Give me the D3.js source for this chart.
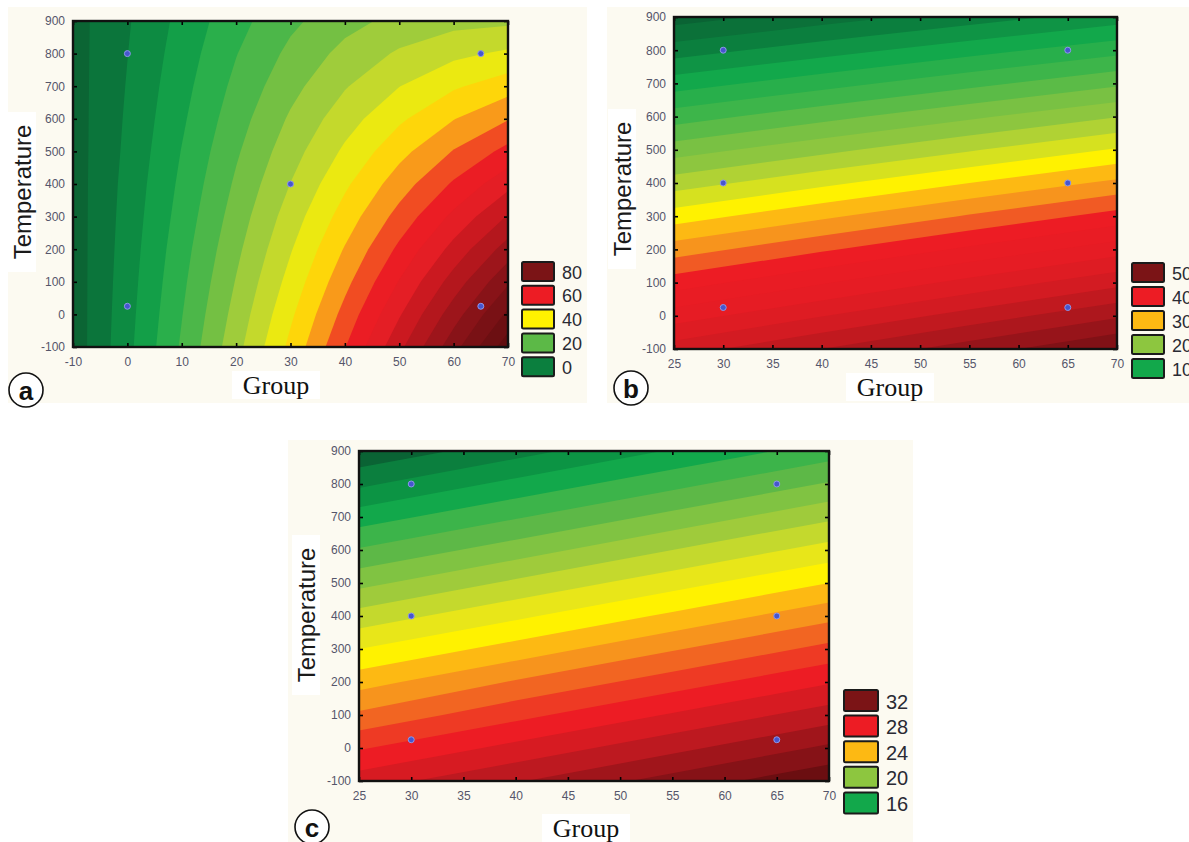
<!DOCTYPE html>
<html>
<head>
<meta charset="utf-8">
<script src="https://cdn.jsdelivr.net/npm/d3@7/dist/d3.min.js"></script>
<style>
html,body{margin:0;padding:0;background:#ffffff;}
svg{display:block;}
</style>
</head>
<body>
<svg id="chart" width="1189" height="842"></svg>
<script>
// ---------------- DATA ----------------
const temperatureTicks = [-100, 0, 100, 200, 300, 400, 500, 600, 700, 800, 900];
const groupTicksA = [-10, 0, 10, 20, 30, 40, 50, 60, 70];
const groupTicksB = [25, 30, 35, 40, 45, 50, 55, 60, 65, 70];
const groupTicksC = [25, 30, 35, 40, 45, 50, 55, 60, 65, 70];

// response surface grids (rows: Temperature -100 .. 900)
const gridGroupA = [-10, 0, 10, 20, 30, 40, 50, 60, 70];
const gridTempA = [-100, 0, 100, 200, 300, 400, 500, 600, 700, 800, 900];
const surfaceA = [
  [-8.0, 3.6, 15.7, 28.3, 41.3, 54.8, 68.7, 83.1, 98.0],
  [-7.9, 3.2, 14.8, 26.8, 39.1, 51.7, 64.5, 77.7, 91.1],
  [-7.8, 2.8, 13.9, 25.3, 36.8, 48.5, 60.3, 72.2, 84.2],
  [-7.7, 2.4, 13.0, 23.8, 34.6, 45.4, 56.1, 66.7, 77.3],
  [-7.6, 2.0, 12.0, 22.3, 32.4, 42.2, 51.8, 61.2, 70.4],
  [-7.5, 1.6, 11.1, 20.8, 30.1, 39.1, 47.6, 55.7, 63.5],
  [-7.4, 1.1, 10.2, 19.3, 27.9, 35.9, 43.4, 50.3, 56.6],
  [-7.3, 0.7, 9.2, 17.8, 25.7, 32.8, 39.1, 44.8, 49.7],
  [-7.2, 0.3, 8.3, 16.3, 23.4, 29.6, 34.9, 39.3, 42.8],
  [-7.1, -0.1, 7.4, 14.8, 21.2, 26.5, 30.7, 33.8, 35.9],
  [-7.0, -0.5, 6.5, 13.3, 18.9, 23.3, 26.5, 28.4, 29.0]
];
const gridGroupB = [25, 40, 55, 70];
const gridTempB = [-100, 0, 100, 200, 300, 400, 500, 600, 700, 800, 900];
const surfaceB = [
  [43.0, 46.0, 49.0, 52.0],
  [39.0, 41.9, 44.8, 47.7],
  [35.0, 37.8, 40.6, 43.4],
  [31.0, 33.7, 36.4, 39.1],
  [27.0, 29.6, 32.2, 34.8],
  [23.0, 25.5, 28.0, 30.5],
  [19.0, 21.4, 23.8, 26.2],
  [15.0, 17.3, 19.6, 21.9],
  [11.0, 13.2, 15.4, 17.6],
  [7.0, 9.1, 11.2, 13.3],
  [3.0, 5.0, 7.0, 9.0]
];
const gridGroupC = [25, 40, 55, 70];
const gridTempC = [-100, 0, 100, 200, 300, 400, 500, 600, 700, 800, 900];
const surfaceC = [
  [29.5, 30.9, 32.4, 33.8],
  [27.9, 29.3, 30.7, 32.2],
  [26.2, 27.7, 29.1, 30.5],
  [24.6, 26.1, 27.5, 28.9],
  [23.0, 24.4, 25.9, 27.3],
  [21.4, 22.8, 24.2, 25.7],
  [19.7, 21.2, 22.6, 24.0],
  [18.1, 19.5, 21.0, 22.4],
  [16.5, 17.9, 19.3, 20.8],
  [14.8, 16.3, 17.7, 19.1],
  [13.2, 14.6, 16.1, 17.5]
];

// contour levels
const levelsA = [-5, 0, 5, 10, 15, 20, 25, 30, 35, 40, 45, 50, 55, 60, 65, 70, 75, 80, 85, 90, 95];
const levelsB = [4, 6, 8, 10, 12, 14, 16, 18, 20, 22, 24, 26, 28, 30, 32, 34, 36, 38, 40, 42, 44, 46, 48, 50, 52];
const levelsC = [14, 15, 16, 17, 18, 19, 20, 21, 22, 23, 24, 25, 26, 27, 28, 29, 30, 31, 32, 33];

// colour ramps (value -> colour)
const colorStopsA = [-10, -5, 0, 5, 10, 15, 20, 25, 30, 35, 40, 45, 50, 55, 62, 68, 75, 82, 90, 100];
const colorListA = ["#0a5f31", "#0b6b37", "#0b7f3e", "#0e9645", "#17a84b", "#3db54a", "#5bb947", "#8dc63f", "#b0d136", "#d7e021", "#fff200", "#fdb913", "#f47b20", "#ed1c24", "#e61e25", "#c9191f", "#a8161c", "#8a1318", "#711013", "#5c0c0e"];
const colorStopsB = [3, 7, 11, 15, 19, 21, 24, 27, 29, 31, 33, 35, 40, 43, 46, 49, 53];
const colorListB = ["#0a6334", "#0b7f3e", "#12a84b", "#3db54a", "#79c143", "#8dc63f", "#c2d82e", "#fff200", "#fdb913", "#f7941d", "#f15a24", "#ed1c24", "#e41c24", "#d31b22", "#b8181e", "#97141a", "#6a0e11"];
const colorStopsC = [13.5, 14.5, 15.5, 16.5, 17.5, 18.5, 19.5, 20.5, 21.5, 22.5, 23.5, 24.5, 25.5, 26.5, 27.5, 28.5, 29.5, 30.5, 31.5, 32.5, 33.5];
const colorListC = ["#0a6334", "#0b7f3e", "#0c9444", "#12a84b", "#3cb44a", "#5db847", "#80c342", "#9fcb3b", "#c4d92d", "#e8e619", "#fff200", "#fdb913", "#f7941d", "#f26522", "#ee3a24", "#ed1c24", "#d71b22", "#bd1920", "#a0151b", "#861217", "#6b0e11"];

// experimental design points
const designGroupA = [0, 0, 30, 65, 65];
const designTempA = [25, 800, 400, 25, 800];
const designGroupB = [30, 30, 30, 65, 65, 65];
const designTempB = [25, 400, 800, 25, 400, 800];
const designGroupC = [30, 30, 30, 65, 65, 65];
const designTempC = [25, 400, 800, 25, 400, 800];

// legends
const legendValuesA = [80, 60, 40, 20, 0];
const legendColorsA = ["#7b1416", "#ed1c24", "#fff200", "#5cb947", "#0b7f3e"];
const legendValuesB = [50, 40, 30, 20, 10];
const legendColorsB = ["#7b1416", "#ed1c24", "#fdb913", "#8dc63f", "#12a84b"];
const legendValuesC = [32, 28, 24, 20, 16];
const legendColorsC = ["#7b1416", "#ed1c24", "#fdb913", "#8dc63f", "#12a84b"];

const xTitle = "Group";
const yTitle = "Temperature";

// ---------------- DRAWING ----------------
const svg = d3.select("#chart");
const defs = svg.append("defs");

function drawPanel(p) {
  const g = svg.append("g");
  g.append("rect")
    .attr("x", p.bg[0]).attr("y", p.bg[1])
    .attr("width", p.bg[2] - p.bg[0]).attr("height", p.bg[3] - p.bg[1])
    .attr("fill", "#fcfaf1");

  const x = d3.scaleLinear().domain([p.gx[0], p.gx[p.gx.length - 1]]).range([p.plot[0], p.plot[2]]);
  const y = d3.scaleLinear().domain([p.gy[0], p.gy[p.gy.length - 1]]).range([p.plot[3], p.plot[1]]);
  const color = d3.scaleLinear().domain(p.stops).range(p.colors).interpolate(d3.interpolateRgb).clamp(true);

  const nx = p.gx.length, ny = p.gy.length;
  const dgx = p.gx[1] - p.gx[0], dgy = p.gy[1] - p.gy[0];
  const values = [].concat(...p.z);
  const bands = d3.contours().size([nx, ny]).thresholds(p.levels)(values);
  const tr = d3.geoTransform({
    point: function (cx, cy) {
      this.stream.point(x(p.gx[0] + (cx - 0.5) * dgx), y(p.gy[0] + (cy - 0.5) * dgy));
    }
  });
  const path = d3.geoPath(tr);

  const clipId = "clip-" + p.id;
  defs.append("clipPath").attr("id", clipId).append("rect")
    .attr("x", p.plot[0]).attr("y", p.plot[1])
    .attr("width", p.plot[2] - p.plot[0]).attr("height", p.plot[3] - p.plot[1]);

  const step = p.levels[1] - p.levels[0];
  const cg = g.append("g").attr("clip-path", `url(#${clipId})`);
  cg.append("rect")
    .attr("x", p.plot[0]).attr("y", p.plot[1])
    .attr("width", p.plot[2] - p.plot[0]).attr("height", p.plot[3] - p.plot[1])
    .attr("fill", color(p.levels[0] - step / 2));
  cg.selectAll("path.band").data(bands).join("path")
    .attr("class", "band")
    .attr("d", path)
    .attr("fill", d => color(d.value + step / 2));

  // axes
  const styleAxis = s => {
    s.select(".domain").remove();
    s.selectAll(".tick line").attr("stroke", "#000").attr("stroke-width", 1.6);
    s.selectAll(".tick text")
      .attr("font-family", "'Liberation Sans', Arial, sans-serif")
      .attr("font-size", 12)
      .attr("fill", "#55556a");
  };
  g.append("g").attr("transform", `translate(0,${p.plot[3]})`)
    .call(d3.axisBottom(x).tickValues(p.xTicks).tickSize(-4).tickPadding(10).tickFormat(d => String(d)))
    .call(styleAxis);
  g.append("g").attr("transform", `translate(0,${p.plot[1]})`)
    .call(d3.axisTop(x).tickValues(p.xTicks).tickSize(-4).tickFormat(() => ""))
    .call(styleAxis);
  g.append("g").attr("transform", `translate(${p.plot[0]},0)`)
    .call(d3.axisLeft(y).tickValues(temperatureTicks).tickSize(-4).tickPadding(8).tickFormat(d => String(d)))
    .call(styleAxis);
  g.append("g").attr("transform", `translate(${p.plot[2]},0)`)
    .call(d3.axisRight(y).tickValues(temperatureTicks).tickSize(-4).tickFormat(() => ""))
    .call(styleAxis);

  // frame
  g.append("rect")
    .attr("x", p.plot[0]).attr("y", p.plot[1])
    .attr("width", p.plot[2] - p.plot[0]).attr("height", p.plot[3] - p.plot[1])
    .attr("fill", "none").attr("stroke", "#111").attr("stroke-width", 2.4);

  // design points
  g.selectAll("circle.pt").data(p.px.map((v, i) => [v, p.py[i]])).join("circle")
    .attr("class", "pt")
    .attr("cx", d => x(d[0])).attr("cy", d => y(d[1]))
    .attr("r", 3)
    .attr("fill", "#4656cf").attr("stroke", "#8e98ea").attr("stroke-width", 1);

  // y title
  g.append("rect")
    .attr("x", p.yt[0] - 14).attr("y", p.yt[1] - 80)
    .attr("width", 28).attr("height", 160).attr("fill", "#ffffff");
  g.append("text")
    .attr("transform", `translate(${p.yt[0]},${p.yt[1]}) rotate(-90)`)
    .attr("text-anchor", "middle").attr("dominant-baseline", "central")
    .attr("font-family", "'Liberation Sans', Arial, sans-serif")
    .attr("font-size", 24).attr("fill", "#1a1a1a")
    .text(yTitle);

  // x title
  g.append("rect")
    .attr("x", p.xt[0] - 44).attr("y", p.xt[1] - 14)
    .attr("width", 88).attr("height", 28).attr("fill", "#ffffff");
  g.append("text")
    .attr("x", p.xt[0]).attr("y", p.xt[1])
    .attr("text-anchor", "middle").attr("dominant-baseline", "central")
    .attr("font-family", "'Liberation Serif', 'Times New Roman', serif")
    .attr("font-size", 26).attr("fill", "#111")
    .text(xTitle);

  // legend
  const lg = g.append("g");
  p.legVals.forEach((v, i) => {
    const yy = p.leg[1] + i * p.leg[3];
    lg.append("rect")
      .attr("x", p.leg[0]).attr("y", yy)
      .attr("width", p.leg[2]).attr("height", p.leg[4])
      .attr("rx", 1.5)
      .attr("fill", p.legCols[i]).attr("stroke", "#1b1b1b").attr("stroke-width", 2);
    lg.append("text")
      .attr("x", p.leg[0] + p.leg[2] + 8).attr("y", yy + p.leg[4] / 2 + 1)
      .attr("dominant-baseline", "central")
      .attr("font-family", "'Liberation Sans', Arial, sans-serif")
      .attr("font-size", p.legFont).attr("fill", "#2a2a33")
      .text(String(v));
  });

  // panel letter
  g.append("circle").attr("cx", p.letter[0]).attr("cy", p.letter[1]).attr("r", 17)
    .attr("fill", "#ffffff").attr("stroke", "#111").attr("stroke-width", 1.6);
  g.append("text").attr("x", p.letter[0]).attr("y", p.letter[1] + 1)
    .attr("text-anchor", "middle").attr("dominant-baseline", "central")
    .attr("font-family", "'Liberation Sans', Arial, sans-serif")
    .attr("font-weight", "bold").attr("font-size", 26).attr("fill", "#111")
    .text(p.letterText);
}

drawPanel({
  id: "a", bg: [8, 7, 587, 403], plot: [73, 21, 508, 347],
  gx: gridGroupA, gy: gridTempA, z: surfaceA, levels: levelsA,
  stops: colorStopsA, colors: colorListA, xTicks: groupTicksA,
  px: designGroupA, py: designTempA,
  yt: [22, 192], xt: [276, 385],
  leg: [522, 262, 32, 23.8, 19], legFont: 18, legVals: legendValuesA, legCols: legendColorsA,
  letter: [26, 390], letterText: "a"
});
drawPanel({
  id: "b", bg: [607, 7, 1189, 403], plot: [674, 17, 1117, 349],
  gx: gridGroupB, gy: gridTempB, z: surfaceB, levels: levelsB,
  stops: colorStopsB, colors: colorListB, xTicks: groupTicksB,
  px: designGroupB, py: designTempB,
  yt: [622, 189], xt: [890, 387],
  leg: [1132, 263, 32, 24, 19], legFont: 18, legVals: legendValuesB, legCols: legendColorsB,
  letter: [631, 388], letterText: "b"
});
drawPanel({
  id: "c", bg: [288, 440, 913, 842], plot: [359, 451, 829, 781],
  gx: gridGroupC, gy: gridTempC, z: surfaceC, levels: levelsC,
  stops: colorStopsC, colors: colorListC, xTicks: groupTicksC,
  px: designGroupC, py: designTempC,
  yt: [306, 615], xt: [586, 828],
  leg: [844, 690, 34, 25.6, 21], legFont: 20, legVals: legendValuesC, legCols: legendColorsC,
  letter: [312, 827], letterText: "c"
});
</script>
</body>
</html>
